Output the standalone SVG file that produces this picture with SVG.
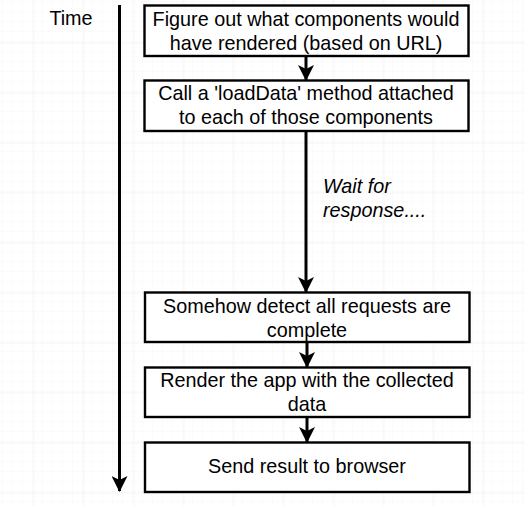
<svg xmlns="http://www.w3.org/2000/svg" width="525" height="506" viewBox="0 0 525 506">
<defs>
<pattern id="minor" width="10" height="10" patternUnits="userSpaceOnUse" x="3" y="2">
<path d="M10 0V10M0 10H10" fill="none" stroke="#f6f6f6" stroke-width="1"/>
</pattern>
<pattern id="major" width="50" height="50" patternUnits="userSpaceOnUse" x="33.5" y="42.5">
<path d="M0 0V50M0 0H50" fill="none" stroke="#ebebeb" stroke-width="1"/>
</pattern>
<marker id="ah" viewBox="0 0 16 16" refX="15" refY="8" markerWidth="16" markerHeight="16" markerUnits="userSpaceOnUse" orient="auto">
<path d="M0 0L16 8L0 16L4 8Z" fill="#000"/>
</marker>
</defs>
<style>
.box{fill:#fff;stroke:#000;stroke-width:2.4}
.t{font-family:"Liberation Sans",Arial,sans-serif;font-size:19.8px;fill:#000;text-anchor:middle}
.c{stroke:#000;stroke-width:3;fill:none}
</style>
<rect width="525" height="506" fill="#fff"/>
<rect width="525" height="506" fill="url(#minor)"/>
<rect width="525" height="506" fill="url(#major)"/>
<g id="time">
<text x="71" y="25" class="t">Time</text>
</g>
<g id="n1">
<rect class="box" x="144.5" y="5.5" width="324" height="50.5"/>
<text class="t" x="306" y="26">Figure out what components would</text>
<text class="t" x="306" y="50">have rendered (based on URL)</text>
</g>
<g id="n2">
<rect class="box" x="144.5" y="80.5" width="324" height="50.5"/>
<text class="t" x="306" y="100">Call a 'loadData' method attached</text>
<text class="t" x="306" y="124">to each of those components</text>
</g>
<g id="n3">
<rect class="box" x="145" y="292.5" width="324.5" height="49.5"/>
<text class="t" x="307" y="313">Somehow detect all requests are</text>
<text class="t" x="307" y="337">complete</text>
</g>
<g id="n4">
<rect class="box" x="145" y="367.5" width="324.5" height="49.5"/>
<text class="t" x="307" y="387">Render the app with the collected</text>
<text class="t" x="307" y="411">data</text>
</g>
<g id="n5">
<rect class="box" x="145" y="442.5" width="324.5" height="49.5"/>
<text class="t" x="307" y="473">Send result to browser</text>
</g>
<g id="connectors">
<line class="c" x1="119.5" y1="5" x2="119.5" y2="491" stroke-width="3.5" marker-end="url(#ah)"/>
<line class="c" x1="306" y1="56" x2="306" y2="80" marker-end="url(#ah)"/>
<line class="c" x1="306" y1="131" x2="306" y2="292" marker-end="url(#ah)"/>
<line class="c" x1="307" y1="342" x2="307" y2="367" marker-end="url(#ah)"/>
<line class="c" x1="307" y1="417" x2="307" y2="442" marker-end="url(#ah)"/>
<text class="t" x="323" y="193" style="text-anchor:start;font-style:italic">Wait for</text>
<text class="t" x="323" y="217" style="text-anchor:start;font-style:italic">response....</text>
</g>
</svg>
